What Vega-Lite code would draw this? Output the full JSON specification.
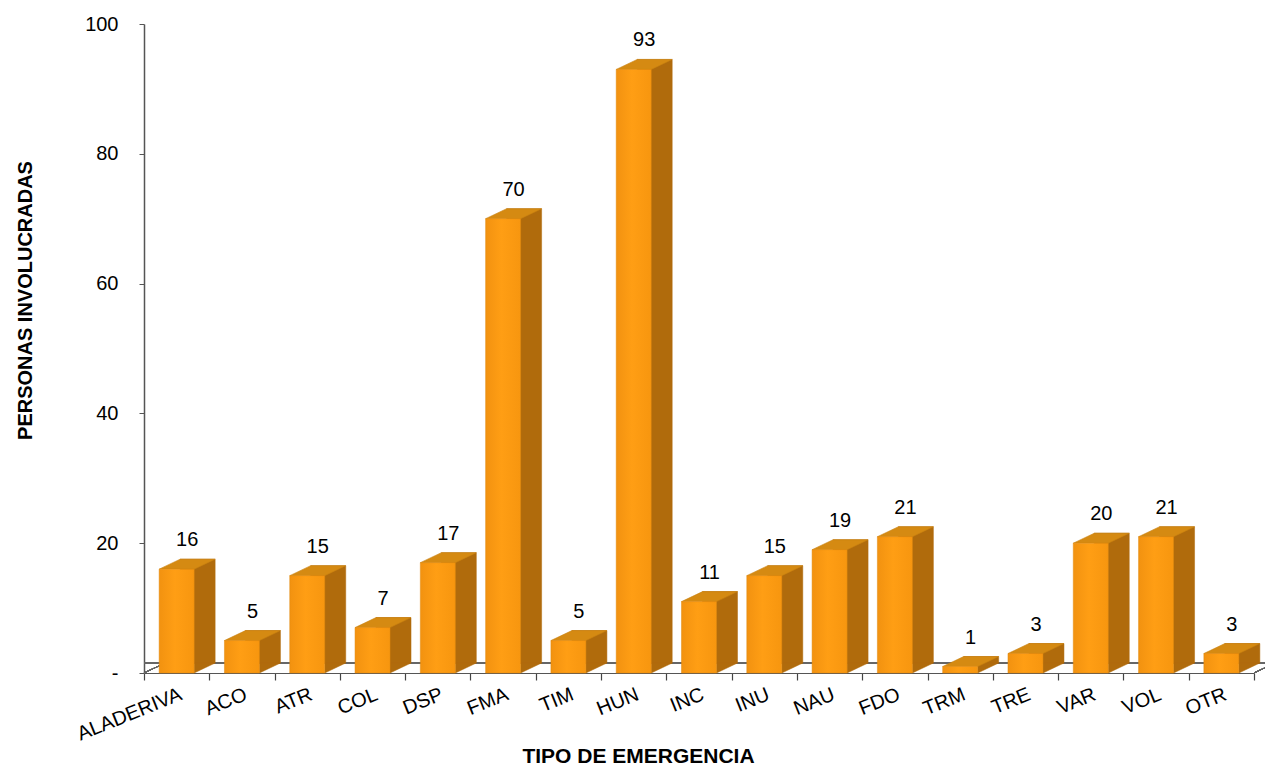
{
  "$schema": "https://vega.github.io/schema/vega-lite/v6.json",
  "width": 1110,
  "height": 649,
  "autosize": "none",
  "padding": {"left": 144, "top": 24, "right": 11, "bottom": 95},
  "background": "white",
  "view": {"stroke": null},
  "config": {"font": "Liberation Sans"},
  "data": {
    "values": [
      {"tipo": "ALADERIVA", "personas": 16},
      {"tipo": "ACO", "personas": 5},
      {"tipo": "ATR", "personas": 15},
      {"tipo": "COL", "personas": 7},
      {"tipo": "DSP", "personas": 17},
      {"tipo": "FMA", "personas": 70},
      {"tipo": "TIM", "personas": 5},
      {"tipo": "HUN", "personas": 93},
      {"tipo": "INC", "personas": 11},
      {"tipo": "INU", "personas": 15},
      {"tipo": "NAU", "personas": 19},
      {"tipo": "FDO", "personas": 21},
      {"tipo": "TRM", "personas": 1},
      {"tipo": "TRE", "personas": 3},
      {"tipo": "VAR", "personas": 20},
      {"tipo": "VOL", "personas": 21},
      {"tipo": "OTR", "personas": 3}
    ]
  },
  "encoding": {
    "x": {
      "field": "tipo",
      "type": "nominal",
      "sort": null,
      "scale": {
        "domain": ["ALADERIVA", "ACO", "ATR", "COL", "DSP", "FMA", "TIM", "HUN", "INC", "INU", "NAU", "FDO", "TRM", "TRE", "VAR", "VOL", "OTR"],
        "paddingInner": 0,
        "paddingOuter": 0
      },
      "axis": {
        "title": "TIPO DE EMERGENCIA",
        "titleFont": "Liberation Sans",
        "titleFontSize": 21,
        "titleFontWeight": "bold",
        "titleColor": "#000",
        "titleX": 494,
        "titleY": 83,
        "titleAlign": "center",
        "titleBaseline": "middle",
        "labelAngle": -22,
        "labelAlign": "right",
        "labelBaseline": "top",
        "labelPadding": 4,
        "labelFontSize": 20,
        "labelColor": "#000",
        "labelFont": "Liberation Sans",
        "ticks": true,
        "tickBand": "extent",
        "tickSize": 7,
        "tickColor": "#444",
        "tickWidth": 1.2,
        "domain": true,
        "domainColor": "#555",
        "domainWidth": 1.2
      }
    },
    "y": {
      "field": "personas",
      "type": "quantitative",
      "scale": {"domain": [0, 100], "nice": false},
      "axis": {
        "title": "PERSONAS INVOLUCRADAS",
        "titleFont": "Liberation Sans",
        "titleFontSize": 20,
        "titleFontWeight": "bold",
        "titleColor": "#000",
        "titleX": -119,
        "titleY": 276,
        "titleAngle": -90,
        "titleAlign": "center",
        "titleBaseline": "middle",
        "values": [0, 20, 40, 60, 80, 100],
        "labelExpr": "datum.value == 0 ? '-' : datum.label",
        "labelFontSize": 20,
        "labelColor": "#000",
        "labelFont": "Liberation Sans",
        "labelPadding": 21,
        "tickSize": 5,
        "tickColor": "#555",
        "domainColor": "#555",
        "domainWidth": 1.5,
        "grid": false
      }
    }
  },
  "layer": [
    {
      "mark": {"type": "rule", "stroke": "#666", "strokeWidth": 1, "xOffset": 21, "yOffset": -10},
      "encoding": {"x": null, "y": {"datum": 0}}
    },
    {
      "mark": {"type": "point", "shape": "M -32.65 0 L -11.65 -10", "size": 4, "filled": false, "stroke": "#666", "strokeWidth": 1, "opacity": 1},
      "encoding": {"x": {"datum": "ALADERIVA"}, "y": {"datum": 0}}
    },
    {
      "mark": {"type": "point", "shape": "M 32.65 0 L 53.65 -10", "size": 4, "filled": false, "stroke": "#666", "strokeWidth": 1, "opacity": 1},
      "encoding": {"x": {"datum": "OTR"}, "y": {"datum": 0}}
    },
    {
      "mark": {"type": "bar", "width": 35, "color": "#B06B0C", "xOffset": 21, "yOffset": -10, "y2Offset": -10, "stroke": "#B06B0C", "strokeWidth": 0.5}
    },
    {
      "mark": {"type": "point", "shape": "M 17.5 0 L 17.5 -10 L 38.5 -10 Z", "size": 4, "filled": true, "fill": "#B06B0C", "stroke": "#B06B0C", "strokeWidth": 0.5, "opacity": 1},
      "encoding": {"y": {"datum": 0}}
    },
    {
      "mark": {"type": "point", "shape": "M -17.5 0 L 17.5 0 L 38.5 -10 L 3.5 -10 Z", "size": 4, "filled": true, "fill": "#D58A12", "stroke": "#C98210", "strokeWidth": 0.6, "opacity": 1}
    },
    {
      "mark": {
        "type": "bar",
        "width": 35,
        "color": {
          "gradient": "linear",
          "x1": 0, "y1": 0, "x2": 1, "y2": 0,
          "stops": [
            {"offset": 0, "color": "#F29210"},
            {"offset": 0.45, "color": "#FF9E14"},
            {"offset": 1, "color": "#F7960F"}
          ]
        },
        "stroke": "#E08A10",
        "strokeWidth": 0.5
      }
    },
    {
      "mark": {"type": "text", "font": "Liberation Sans", "fontSize": 20, "color": "#000", "xOffset": 10.5, "yOffset": -23, "baseline": "alphabetic", "align": "center"},
      "encoding": {"text": {"field": "personas", "type": "quantitative"}}
    }
  ]
}
